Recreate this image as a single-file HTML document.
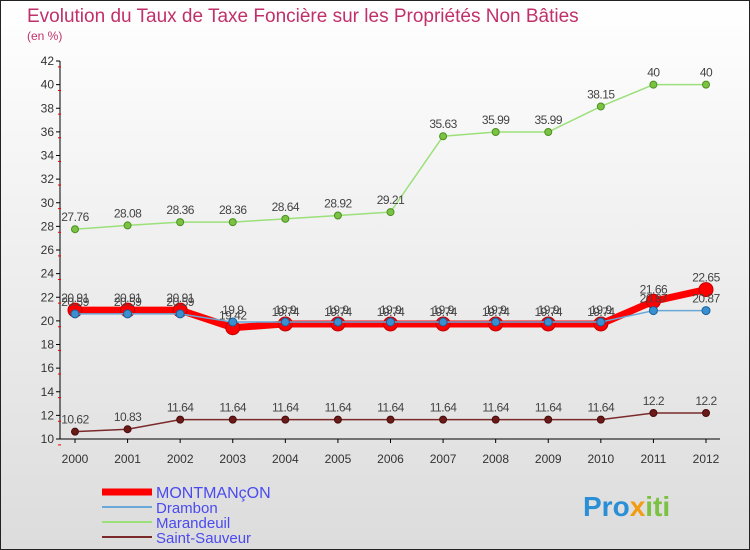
<!DOCTYPE html>
<html><head><meta charset="utf-8"><style>
body{margin:0;width:750px;height:550px;overflow:hidden;font-family:"Liberation Sans",sans-serif}
svg{display:block}
</style></head><body>
<svg id="c" width="750" height="550">
<defs><linearGradient id="bg" x1="0" y1="0" x2="0" y2="1"><stop offset="0" stop-color="#ffffff"/><stop offset="1" stop-color="#dcdcdc"/></linearGradient></defs>
<rect x="0.5" y="0.5" width="749" height="549" fill="url(#bg)" stroke="#222"/>
<text x="27" y="22" font-size="19" fill="#c0306a">Evolution du Taux de Taxe Foncière sur les Propriétés Non Bâties</text>
<text x="27" y="40" font-size="12" fill="#c0306a">(en %)</text>
<g id="axes"></g><g id="series"></g><g id="legend"></g>
<text x="583" y="516" font-size="28" font-weight="bold" fill="#2b8fd6">Pro<tspan fill="#f39c12">x</tspan><tspan fill="#7cc242">iti</tspan></text>
</svg>
<script>
const years=[2000,2001,2002,2003,2004,2005,2006,2007,2008,2009,2010,2011,2012];
const yTicks=[10,12,14,16,18,20,22,24,26,28,30,32,34,36,38,40,42];
const montmancon=[20.91,20.91,20.91,19.42,19.74,19.74,19.74,19.74,19.74,19.74,19.74,21.66,22.65];
const drambon=[20.59,20.59,20.59,19.9,19.9,19.9,19.9,19.9,19.9,19.9,19.9,20.87,20.87];
const marandeuil=[27.76,28.08,28.36,28.36,28.64,28.92,29.21,35.63,35.99,35.99,38.15,40,40];
const saintSauveur=[10.62,10.83,11.64,11.64,11.64,11.64,11.64,11.64,11.64,11.64,11.64,12.2,12.2];
const NS='http://www.w3.org/2000/svg';
const x=i=>75+i*(706-75)/(years.length-1);
const y=v=>439-(v-10)*(439-61)/32;
function mk(t,a,p){const e=document.createElementNS(NS,t);for(const k in a)e.setAttribute(k,a[k]);p.appendChild(e);return e;}
const ax=document.getElementById('axes');
let l=mk('line',{x1:60,y1:61,x2:60,y2:439,stroke:'#000'},ax);

l=mk('line',{x1:60,y1:439,x2:720,y2:439,stroke:'#000'},ax);

yTicks.forEach(v=>{mk('line',{x1:56,y1:y(v),x2:60,y2:y(v),stroke:'#000'},ax);
 mk('line',{x1:58,y1:y(v)+5.9,x2:61,y2:y(v)+5.9,stroke:'#e00'},ax);
 const t=mk('text',{x:54,y:y(v)+4,'font-size':12,fill:'#333','text-anchor':'end'},ax);t.textContent=v;
 });
years.forEach((yr,i)=>{mk('line',{x1:x(i),y1:439,x2:x(i),y2:443,stroke:'#000'},ax);
 const t=mk('text',{x:x(i),y:463,'font-size':12,fill:'#333','text-anchor':'middle'},ax);t.textContent=yr;
 });
const sg=document.getElementById('series');
function series(name,data,color,w,r,dot,stroke){
 const g=mk('g',{},sg);
 const p=mk('polyline',{points:data.map((v,i)=>x(i)+','+y(v)).join(' '),fill:'none',stroke:color,'stroke-width':w},g);
 
 data.forEach((v,i)=>{const c=mk('circle',{cx:x(i),cy:y(v),r:r,fill:dot,stroke:stroke,'stroke-width':1},g);
  
  const t=mk('text',{x:x(i),y:y(v)-8,'font-size':12,fill:'#444','text-anchor':'middle','letter-spacing':'-0.5'},g);t.textContent=v;
  });
}
series('saint-sauveur',saintSauveur,'#7a2a2a',1.5,3.5,'#6b1a1a','#4a0a0a');
series('marandeuil',marandeuil,'#9be07a',1.5,3.5,'#7cc242','#4a9020');
series('montmancon',montmancon,'#ff0000',7,7,'#ff0000','#c00000');
series('drambon',drambon,'#6aa8d8',1.5,4,'#3a8fd0','#1a5f9a');
const lg=document.getElementById('legend');
[['MONTMANçON','#ff0000',7],['Drambon','#6aa8d8',2],['Marandeuil','#9be07a',2],['Saint-Sauveur','#7a2a2a',2]].forEach((d,i)=>{
 const yy=492+i*15;
 const g=mk('g',{},lg);
 mk('line',{x1:102,y1:yy,x2:152,y2:yy,stroke:d[1],'stroke-width':d[2]},g);
 const t=mk('text',{x:156,y:yy+6,'font-size':i==0?16:15,fill:'#4a4af0'},g);t.textContent=d[0];
});
</script>
</body></html>
